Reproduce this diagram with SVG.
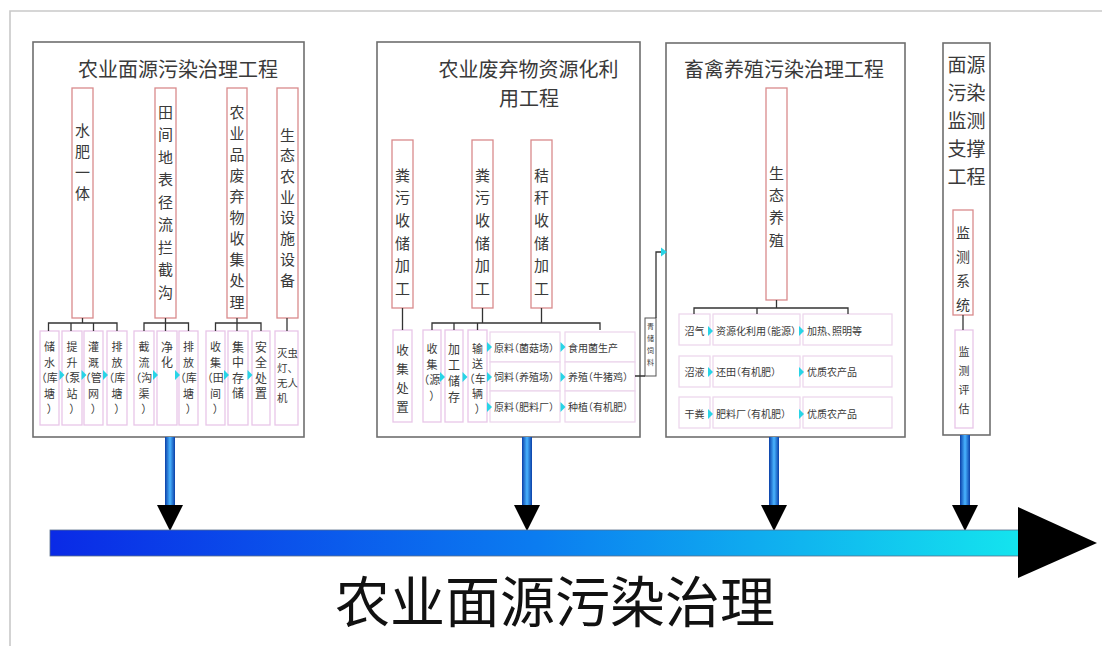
<svg xmlns="http://www.w3.org/2000/svg" width="1102" height="646" viewBox="0 0 1102 646">
<style>
text{font-family:"Noto Sans CJK SC","Noto Sans",sans-serif;fill:#3a3a3a}
.ttl{font-size:20px;text-anchor:middle}
.vt{writing-mode:vertical-rl;text-anchor:start}
.v12{font-size:11px;text-anchor:middle;font-feature-settings:"halt"}
.t10{font-size:10px;font-feature-settings:"halt"}
.panel{fill:#fff;stroke:#6e6e6e;stroke-width:1.6}
.tall{fill:#fff;stroke:#d98a8c;stroke-width:1.3}
.small{fill:#fff;stroke:#e8c6e8;stroke-width:1.3}
.cell{fill:#fff;stroke:#ecd4ec;stroke-width:1.2}
.ln{stroke:#333;stroke-width:1.3;fill:none}
.tri{fill:#28d4e6}
.head{fill:#000}
</style>
<defs>
<path id="tr" d="M0,-5 L5,0 L0,5 Z" class="tri"/>
<linearGradient id="gMain" x1="0" y1="0" x2="1" y2="0">
<stop offset="0" stop-color="#0a2ae6"/>
<stop offset="0.5" stop-color="#0b7cf0"/>
<stop offset="1" stop-color="#14e4ee"/>
</linearGradient>
<linearGradient id="gDrop" x1="0" y1="0" x2="1" y2="0">
<stop offset="0" stop-color="#0a3fa8"/>
<stop offset="0.5" stop-color="#49b4ff"/>
<stop offset="1" stop-color="#0a3fa8"/>
</linearGradient>
</defs>
<rect width="1102" height="646" fill="#fff"/>
<path d="M10,646 V11 H1102" fill="none" stroke="#c9c9c9" stroke-width="1.6"/>

<!-- Panel 1 -->
<g id="panel1">
<rect class="panel" x="33" y="42" width="271" height="395"/>
<text class="ttl" x="178" y="77">农业面源污染治理工程</text>
</g>
<g id="p1-shuifei">
<rect class="tall" x="72" y="88" width="21" height="230"/>
<text class="vt" x="82.5" y="122.5" style="font-size:15px;letter-spacing:6px">水肥一体</text>
</g>
<g id="p1-tianjian">
<rect class="tall" x="155" y="88" width="21" height="230"/>
<text class="vt" x="165.5" y="104.5" style="font-size:15px;letter-spacing:7.5px">田间地表径流拦截沟</text>
</g>
<g id="p1-feiqiwu">
<rect class="tall" x="227" y="88" width="20" height="230"/>
<text class="vt" x="237" y="104.5" style="font-size:15px;letter-spacing:6.1px">农业品废弃物收集处理</text>
</g>
<g id="p1-shengtai">
<rect class="tall" x="277" y="88" width="21" height="230"/>
<text class="vt" x="287.5" y="127.5" style="font-size:15px;letter-spacing:5.7px">生态农业设施设备</text>
</g>
<g id="p1-small">
<g id="p1-s1"><rect class="small" x="40" y="331" width="19" height="94"/><text class="v12"><tspan x="49.5" y="351">储</tspan><tspan x="49.5" y="366.5">水</tspan><tspan x="49.5" y="382">（库</tspan><tspan x="49.5" y="397.5">塘</tspan><tspan x="49.5" y="413">）</tspan></text></g>
<g id="p1-s2"><rect class="small" x="62" y="331" width="20" height="94"/><text class="v12"><tspan x="72" y="351">提</tspan><tspan x="72" y="366.5">升</tspan><tspan x="72" y="382">（泵</tspan><tspan x="72" y="397.5">站</tspan><tspan x="72" y="413">）</tspan></text></g>
<g id="p1-s3"><rect class="small" x="84" y="331" width="19" height="94"/><text class="v12"><tspan x="93.5" y="351">灌</tspan><tspan x="93.5" y="366.5">溉</tspan><tspan x="93.5" y="382">（管</tspan><tspan x="93.5" y="397.5">网</tspan><tspan x="93.5" y="413">）</tspan></text></g>
<g id="p1-s4"><rect class="small" x="107" y="331" width="20" height="94"/><text class="v12"><tspan x="117" y="351">排</tspan><tspan x="117" y="366.5">放</tspan><tspan x="117" y="382">（库</tspan><tspan x="117" y="397.5">塘</tspan><tspan x="117" y="413">）</tspan></text></g>
<g id="p1-s5"><rect class="small" x="134" y="331" width="20" height="94"/><text class="v12"><tspan x="144" y="351">截</tspan><tspan x="144" y="366.5">流</tspan><tspan x="144" y="382">（沟</tspan><tspan x="144" y="397.5">渠</tspan><tspan x="144" y="413">）</tspan></text></g>
<g id="p1-s6"><rect class="small" x="157" y="331" width="20" height="94"/><text class="vt" x="167" y="341" style="font-size:12px;letter-spacing:3.5px">净化</text></g>
<g id="p1-s7"><rect class="small" x="179" y="331" width="19" height="94"/><text class="v12"><tspan x="188.5" y="351">排</tspan><tspan x="188.5" y="366.5">放</tspan><tspan x="188.5" y="382">（库</tspan><tspan x="188.5" y="397.5">塘</tspan><tspan x="188.5" y="413">）</tspan></text></g>
<g id="p1-s8"><rect class="small" x="206" y="331" width="19" height="94"/><text class="v12"><tspan x="215.5" y="351">收</tspan><tspan x="215.5" y="366.5">集</tspan><tspan x="215.5" y="382">（田</tspan><tspan x="215.5" y="397.5">间</tspan><tspan x="215.5" y="413">）</tspan></text></g>
<g id="p1-s9"><rect class="small" x="228" y="331" width="20" height="94"/><text class="vt" x="238" y="341" style="font-size:12px;letter-spacing:3.5px">集中存储</text></g>
<g id="p1-s10"><rect class="small" x="252" y="331" width="18" height="94"/><text class="vt" x="261" y="341" style="font-size:12px;letter-spacing:3.5px">安全处置</text></g>
<g id="p1-s11"><rect class="small" x="275" y="331" width="23" height="94"/><text class="t10" style="font-size:10.5px"><tspan x="277" y="356.5">灭虫</tspan><tspan x="277" y="371.5">灯、</tspan><tspan x="277" y="386.5">无人</tspan><tspan x="277" y="401.5">机</tspan></text></g>
</g>

<!-- Panel 2 -->
<g id="panel2">
<rect class="panel" x="377" y="42" width="263" height="395"/>
<text class="ttl"><tspan x="528.5" y="77">农业废弃物资源化利</tspan><tspan x="529" y="106">用工程</tspan></text>
</g>
<g id="p2-t1">
<rect class="tall" x="392" y="140" width="21" height="168"/>
<text class="vt" x="402.5" y="167.5" style="font-size:15px;letter-spacing:7.7px">粪污收储加工</text>
</g>
<g id="p2-t2">
<rect class="tall" x="472" y="140" width="21" height="168"/>
<text class="vt" x="482.5" y="167.5" style="font-size:15px;letter-spacing:7.7px">粪污收储加工</text>
</g>
<g id="p2-t3">
<rect class="tall" x="531" y="140" width="21" height="168"/>
<text class="vt" x="541.5" y="167.5" style="font-size:15px;letter-spacing:7.7px">秸秆收储加工</text>
</g>
<g id="p2-small">
<g id="p2-s1"><rect class="small" x="393" y="330" width="19" height="92"/><text class="vt" x="402.5" y="343.5" style="font-size:12.5px;letter-spacing:6.5px">收集处置</text></g>
<g id="p2-s2"><rect class="small" x="423" y="330" width="18" height="92"/><text class="v12"><tspan x="432" y="353">收</tspan><tspan x="432" y="368.5">集</tspan><tspan x="432" y="384">（源</tspan><tspan x="432" y="399.5">）</tspan></text></g>
<g id="p2-s3"><rect class="small" x="445" y="330" width="18" height="92"/><text class="vt" x="454" y="343.5" style="font-size:12px;letter-spacing:4px">加工储存</text></g>
<g id="p2-s4"><rect class="small" x="468" y="330" width="19" height="92"/><text class="v12"><tspan x="477.5" y="353">输</tspan><tspan x="477.5" y="368">送</tspan><tspan x="477.5" y="383">（车</tspan><tspan x="477.5" y="398">辆</tspan><tspan x="477.5" y="413">）</tspan></text></g>
<g id="p2-r1a"><rect class="cell" x="490" y="332" width="70" height="30"/><text class="t10" x="494" y="351.5">原料（菌菇场）</text></g>
<g id="p2-r1b"><rect class="cell" x="565" y="332" width="70" height="30"/><text class="t10" x="568" y="351.5">食用菌生产</text></g>
<g id="p2-r2a"><rect class="cell" x="490" y="362" width="70" height="29"/><text class="t10" x="494" y="380.5">饲料（养殖场）</text></g>
<g id="p2-r2b"><rect class="cell" x="565" y="362" width="70" height="29"/><text class="t10" x="568" y="380.5">养殖（牛猪鸡）</text></g>
<g id="p2-r3a"><rect class="cell" x="490" y="391" width="70" height="31"/><text class="t10" x="494" y="411">原料（肥料厂）</text></g>
<g id="p2-r3b"><rect class="cell" x="565" y="391" width="70" height="31"/><text class="t10" x="568" y="411">种植（有机肥）</text></g>
</g>
<g id="qingchu">
<rect x="645" y="318" width="11" height="58" fill="#fff" stroke="#555" stroke-width="1"/>
<text class="vt" x="650.5" y="323" style="font-size:7px;letter-spacing:5px">青储饲料</text>
</g>

<!-- Panel 3 -->
<g id="panel3">
<rect class="panel" x="666" y="43" width="239" height="394"/>
<text class="ttl" x="784" y="77">畜禽养殖污染治理工程</text>
</g>
<g id="p3-t1">
<rect class="tall" x="766" y="88" width="21" height="212"/>
<text class="vt" x="776.5" y="165.5" style="font-size:15px;letter-spacing:7.3px">生态养殖</text>
</g>
<g id="p3-table">
<g id="p3-r1a"><rect class="cell" x="679" y="314" width="31" height="31"/><text class="t10" x="694.5" y="334.5" text-anchor="middle">沼气</text></g>
<g id="p3-r1b"><rect class="cell" x="713" y="314" width="87" height="31"/><text class="t10" x="716" y="334.5">资源化利用（能源）</text></g>
<g id="p3-r1c"><rect class="cell" x="803" y="314" width="89" height="31"/><text class="t10" x="807" y="334.5">加热、照明等</text></g>
<g id="p3-r2a"><rect class="cell" x="679" y="356" width="31" height="31"/><text class="t10" x="694.5" y="375.5" text-anchor="middle">沼液</text></g>
<g id="p3-r2b"><rect class="cell" x="713" y="356" width="87" height="31"/><text class="t10" x="716" y="375.5">还田（有机肥）</text></g>
<g id="p3-r2c"><rect class="cell" x="803" y="356" width="89" height="31"/><text class="t10" x="807" y="375.5">优质农产品</text></g>
<g id="p3-r3a"><rect class="cell" x="679" y="397" width="31" height="31"/><text class="t10" x="694.5" y="417.5" text-anchor="middle">干粪</text></g>
<g id="p3-r3b"><rect class="cell" x="713" y="397" width="87" height="31"/><text class="t10" x="716" y="417.5">肥料厂（有机肥）</text></g>
<g id="p3-r3c"><rect class="cell" x="803" y="397" width="89" height="31"/><text class="t10" x="807" y="417.5">优质农产品</text></g>
</g>

<!-- Panel 4 -->
<g id="panel4">
<rect class="panel" x="943" y="43" width="47" height="392"/>
<text class="ttl" style="font-size:19px"><tspan x="966.5" y="72">面源</tspan><tspan x="966.5" y="100">污染</tspan><tspan x="966.5" y="128">监测</tspan><tspan x="966.5" y="156">支撑</tspan><tspan x="966.5" y="184">工程</tspan></text>
</g>
<g id="p4-t1">
<rect class="tall" x="953" y="210" width="20" height="105"/>
<text class="vt" x="963" y="226" style="font-size:14px;letter-spacing:10px">监测系统</text>
</g>
<g id="p4-s1">
<rect class="small" x="955" y="330" width="18" height="98"/>
<text class="vt" x="964" y="346.5" style="font-size:11px;letter-spacing:8px">监测评估</text>
</g>

<!-- Connectors -->
<g id="connectors">
<path class="ln" d="M82.5,318 V323 M48.5,331 V323 H117 V331 M71,323 V331 M93.5,323 V331"/>
<path class="ln" d="M165.5,318 V331 M144,331 V323 H188.5 V331"/>
<path class="ln" d="M237,318 V331 M215.5,331 V323 H261 V331"/>
<path class="ln" d="M287,318 V331"/>
<path class="ln" d="M402.5,308 V330 M482.5,308 V323 M541.5,308 V323 M432,330 V323 H600 V330 M454,323 V330 M477.5,323 V330"/>
<path class="ln" d="M776.5,300 V308 M694,314 V308 H848 V314 M757,308 V314"/>
<path class="ln" d="M963,315 V330"/>
<path class="ln" d="M635,376 H645 M656,318 V252 H662"/>
<path class="tri" d="M661,247.5 L667,252 L661,256.5 Z"/>
<use href="#tr" x="59.5" y="375"/><use href="#tr" x="81.5" y="375"/><use href="#tr" x="103" y="375"/>
<use href="#tr" x="153" y="375"/><use href="#tr" x="175" y="375"/>
<use href="#tr" x="224" y="375"/><use href="#tr" x="247.5" y="375"/>
<use href="#tr" x="440" y="377"/><use href="#tr" x="462.5" y="377"/>
<use href="#tr" x="487" y="347"/><use href="#tr" x="487" y="377"/><use href="#tr" x="487" y="407"/>
<use href="#tr" x="560.5" y="347"/><use href="#tr" x="560.5" y="377"/><use href="#tr" x="560.5" y="407"/>
<use href="#tr" x="708" y="331"/><use href="#tr" x="708" y="372"/><use href="#tr" x="708" y="414"/>
<use href="#tr" x="799" y="331"/><use href="#tr" x="799" y="372"/><use href="#tr" x="799" y="414"/>
</g>

<!-- Timeline -->
<g id="timeline">
<rect x="165" y="437" width="10" height="69" fill="url(#gDrop)"/>
<rect x="522" y="437" width="10" height="69" fill="url(#gDrop)"/>
<rect x="769" y="437" width="10" height="69" fill="url(#gDrop)"/>
<rect x="960" y="435" width="10" height="71" fill="url(#gDrop)"/>
<path class="head" d="M157,505 H183 L170,531 Z"/>
<path class="head" d="M514,505 H540 L527,531 Z"/>
<path class="head" d="M761,505 H787 L774,531 Z"/>
<path class="head" d="M952,505 H978 L965,531 Z"/>
<rect x="50" y="530" width="970" height="26" fill="url(#gMain)" stroke="#5b6f8a" stroke-width="0.8"/>
<path class="head" d="M1018,507 L1097,543 L1018,578 Z"/>
<text x="555" y="622" style="font-size:55px;text-anchor:middle;fill:#111">农业面源污染治理</text>
</g>
</svg>
